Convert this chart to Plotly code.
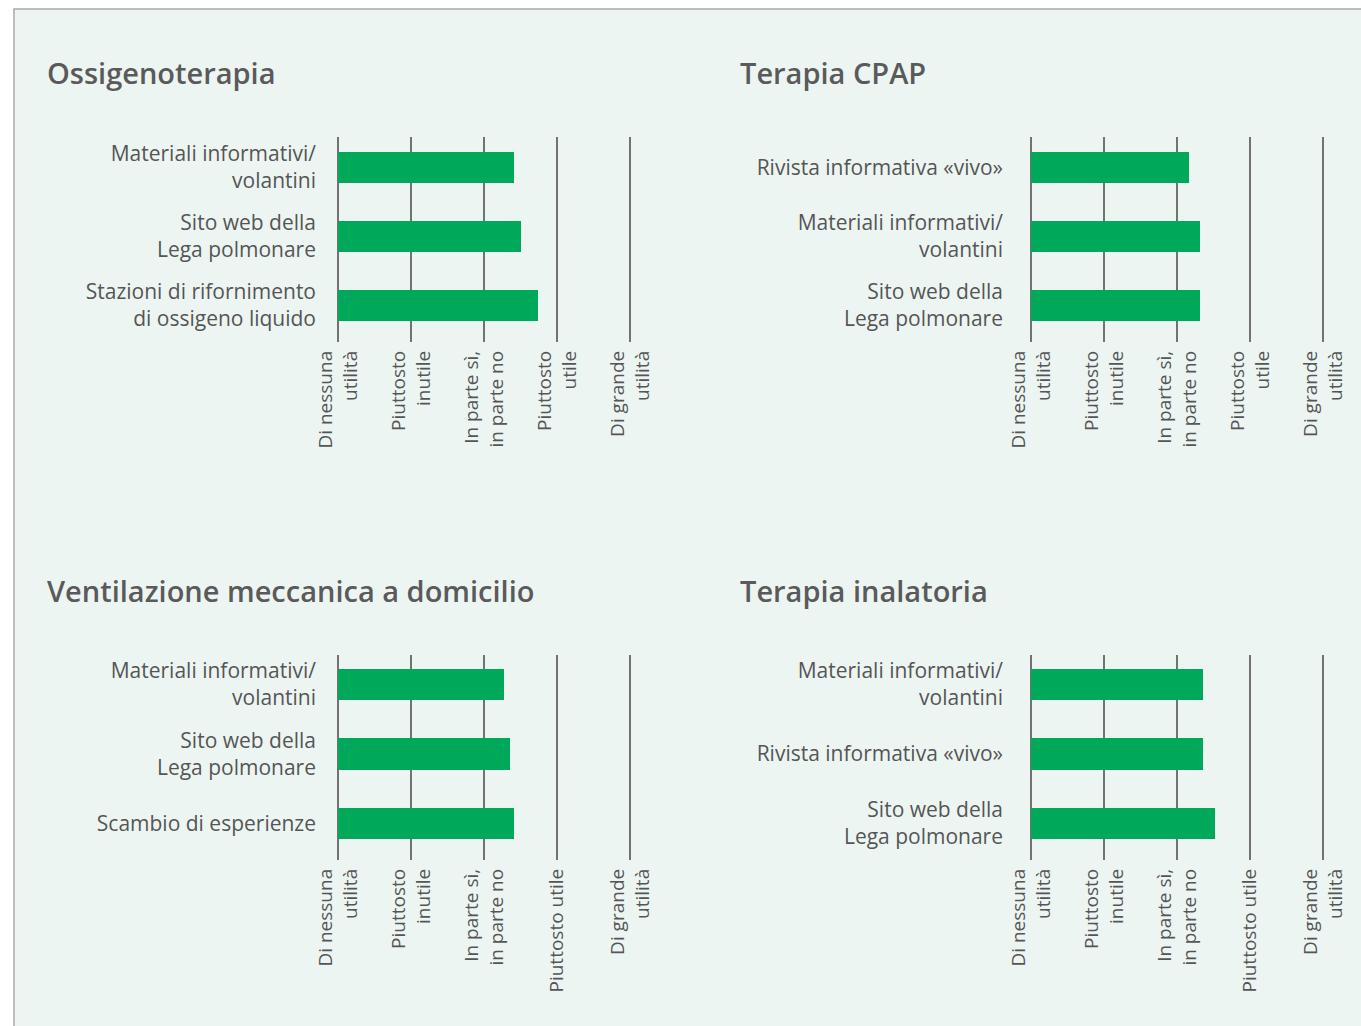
import plotly.graph_objects as go

W, H = 1361, 1026

titles = ["Ossigenoterapia", "Terapia CPAP", "Ventilazione meccanica a domicilio", "Terapia inalatoria"]

cats_1 = ["Materiali informativi/<br>volantini", "Sito web della<br>Lega polmonare", "Stazioni di rifornimento<br>di ossigeno liquido"]
vals_1 = [2.41, 2.51, 2.74]

cats_2 = ["Rivista informativa «vivo»", "Materiali informativi/<br>volantini", "Sito web della<br>Lega polmonare"]
vals_2 = [2.16, 2.32, 2.32]

cats_3 = ["Materiali informativi/<br>volantini", "Sito web della<br>Lega polmonare", "Scambio di esperienze"]
vals_3 = [2.27, 2.36, 2.41]

cats_4 = ["Materiali informativi/<br>volantini", "Rivista informativa «vivo»", "Sito web della<br>Lega polmonare"]
vals_4 = [2.36, 2.36, 2.52]

scale_vals = [0, 1, 2, 3, 4]
ticks_top = ["Di nessuna<br>utilità", "Piuttosto<br>inutile", "In parte sì,<br>in parte no", "Piuttosto<br>utile", "Di grande<br>utilità"]
ticks_bottom = ["Di nessuna<br>utilità", "Piuttosto<br>inutile", "In parte sì,<br>in parte no", "Piuttosto utile", "Di grande<br>utilità"]

GREEN = "#00a85a"
BG = "#edf5f3"
GRID = "#727272"
TXT = "#555555"
FONT = "Open Sans"

panels = [
    dict(cats=cats_1, vals=vals_1, ticks=ticks_top, x0=338, top=137, bot=342, c0=167.5, step=69, title_y=72, stand=13),
    dict(cats=cats_2, vals=vals_2, ticks=ticks_top, x0=1031, top=137, bot=342, c0=167.5, step=69, title_y=72, stand=19),
    dict(cats=cats_3, vals=vals_3, ticks=ticks_bottom, x0=338, top=655, bot=860, c0=684.5, step=69.5, title_y=590, stand=13),
    dict(cats=cats_4, vals=vals_4, ticks=ticks_bottom, x0=1031, top=655, bot=860, c0=684.5, step=69.5, title_y=590, stand=19),
]
title_x = [45, 738, 45, 738]
UNIT = 73
PAD = 8

fig = go.Figure()
layout = dict(
    width=W, height=H, margin=dict(l=0, r=0, t=0, b=0, autoexpand=False),
    paper_bgcolor="white", plot_bgcolor="rgba(0,0,0,0)",
    showlegend=False, font=dict(family=FONT, color=TXT),
    bargap=0,
)
annotations = []
for i, p in enumerate(panels):
    n = i + 1
    xa = "x" if n == 1 else f"x{n}"
    ya = "y" if n == 1 else f"y{n}"
    fig.add_trace(go.Bar(
        x=p["vals"], y=list(range(len(p["cats"]))), orientation="h",
        marker=dict(color=GREEN, line=dict(width=0)), width=0.45,
        xaxis=xa, yaxis=ya, hoverinfo="skip",
    ))
    xl = p["x0"] - PAD
    xr = p["x0"] + 4 * UNIT + PAD
    xrange = [-PAD / UNIT, 4 + PAD / UNIT]
    ytop = (p["top"] - p["c0"]) / p["step"]
    ybot = (p["bot"] - p["c0"]) / p["step"]
    layout["xaxis" if n == 1 else f"xaxis{n}"] = dict(
        domain=[xl / W, xr / W], range=xrange, anchor=ya,
        tickvals=scale_vals, ticktext=p["ticks"], tickangle=-90,
        tickfont=dict(family=FONT, size=19, color=TXT),
        showgrid=True, gridcolor=GRID, gridwidth=2, zeroline=False,
        showline=False, ticks="", fixedrange=True, automargin=False,
        ticklabelstandoff=4,
    )
    layout["yaxis" if n == 1 else f"yaxis{n}"] = dict(
        domain=[1 - p["bot"] / H, 1 - p["top"] / H], range=[ybot, ytop], anchor=xa,
        tickvals=list(range(len(p["cats"]))), ticktext=p["cats"],
        tickfont=dict(family=FONT, size=21, color=TXT),
        showgrid=False, zeroline=False, showline=False, ticks="",
        ticklabelstandoff=p["stand"], fixedrange=True, automargin=False,
    )
    annotations.append(dict(
        text=titles[i], x=title_x[i] / W, y=1 - p["title_y"] / H,
        xref="paper", yref="paper", xanchor="left", yanchor="middle",
        showarrow=False, font=dict(family=FONT, size=29, color="#5a5a5a", weight=600),
    ))

layout["annotations"] = annotations
layout["shapes"] = [dict(
    type="rect", xref="paper", yref="paper", layer="below",
    x0=14 / W, x1=1.02, y0=-0.02, y1=1 - 9 / H,
    fillcolor=BG, line=dict(color="#a8a8a8", width=1.5),
)]
fig.update_layout(**layout)
fig.write_html("out.html", config={"displayModeBar": False, "staticPlot": True},
               post_script="document.body.style.margin='0';document.body.style.overflow='hidden';")
